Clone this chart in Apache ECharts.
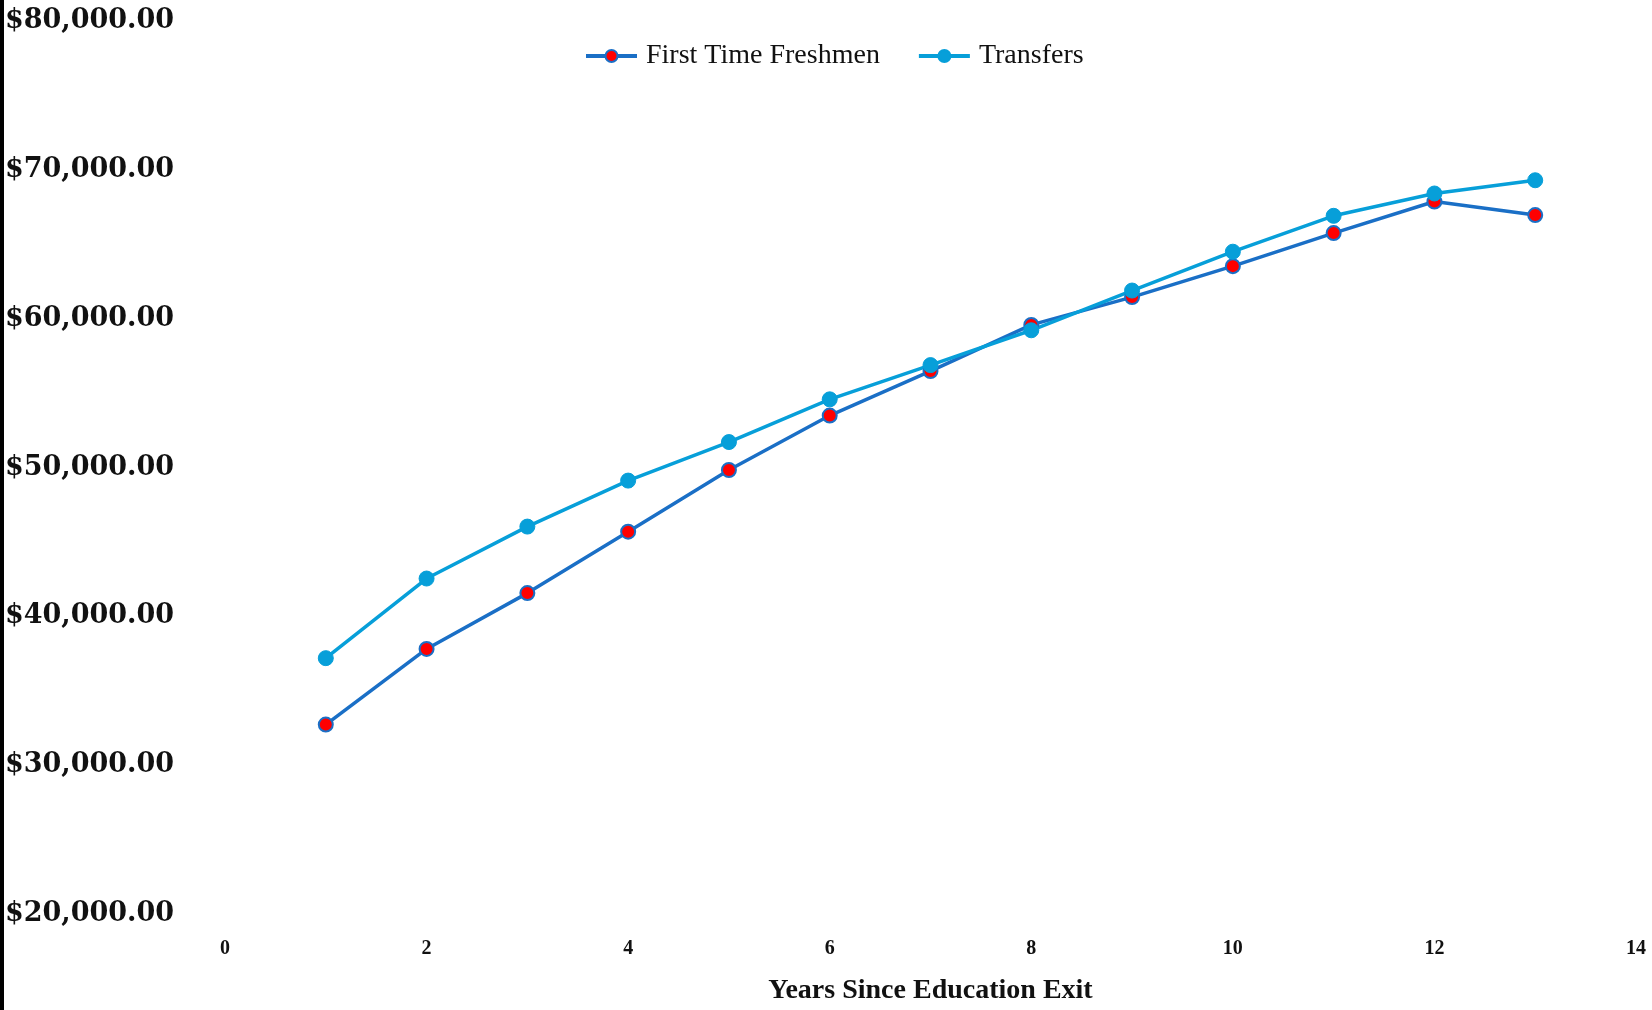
<!DOCTYPE html>
<html><head><meta charset="utf-8">
<script src="https://cdn.jsdelivr.net/npm/echarts@6/dist/echarts.min.js"></script>
<style>html,body{margin:0;padding:0;background:#fff}#c{width:1652px;height:1010px}</style>
</head><body><div id="c"></div>
<script>
const years = [1,2,3,4,5,6,7,8,9,10,11,12,13];
const firstTimeFreshmen = [32730,37810,41560,45690,49830,53490,56480,59580,61450,63530,65750,67870,66960];
const transfers = [37190,42540,46030,49120,51710,54580,56880,59220,61890,64500,66910,68410,69300];
const seriesNames = ['First Time Freshmen','Transfers'];
const xTitle = 'Years Since Education Exit';

const chart = echarts.init(document.getElementById('c'));
const serif = 'Liberation Serif';
chart.setOption({
  animation:false,
  backgroundColor:'#fff',
  graphic:[{type:'rect',left:0,top:0,shape:{width:4,height:1010},style:{fill:'#000'}}],
  legend:{
    top:37, left:579, itemWidth:51, itemHeight:15, itemGap:37,
    lineStyle:{width:4},
    textStyle:{fontFamily:serif,fontSize:28,color:'#111',padding:[0,0,0,4]},
    data:seriesNames
  },
  grid:{left:225,right:16,top:21,bottom:92},
  xAxis:{
    type:'value',min:0,max:14,interval:2,
    name:xTitle,nameLocation:'middle',nameGap:63,
    nameTextStyle:{fontFamily:serif,fontSize:28,fontWeight:'bold',color:'#111'},
    axisLine:{show:false},axisTick:{show:false},splitLine:{show:false},
    axisLabel:{fontFamily:serif,fontSize:20,fontWeight:'bold',color:'#111',margin:25}
  },
  yAxis:{
    type:'value',min:20000,max:80000,interval:10000,
    axisLine:{show:false},axisTick:{show:false},splitLine:{show:false},
    axisLabel:{fontFamily:'DejaVu Serif',fontSize:27,fontWeight:'bold',color:'#111',align:'left',margin:220,
      formatter:v=>'$'+v.toLocaleString('en-US',{minimumFractionDigits:2,maximumFractionDigits:2})}
  },
  series:[
    {name:seriesNames[0],type:'line',data:years.map((x,i)=>[x,firstTimeFreshmen[i]]),
     symbol:'circle',symbolSize:14,
     lineStyle:{color:'#1a6fc6',width:3.5},
     itemStyle:{color:'#ff0000',borderColor:'#1a6fc6',borderWidth:2}},
    {name:seriesNames[1],type:'line',data:years.map((x,i)=>[x,transfers[i]]),
     symbol:'circle',symbolSize:15,
     lineStyle:{color:'#079fd9',width:3.5},
     itemStyle:{color:'#079fd9',borderColor:'#079fd9',borderWidth:1}}
  ]
});
</script></body></html>
